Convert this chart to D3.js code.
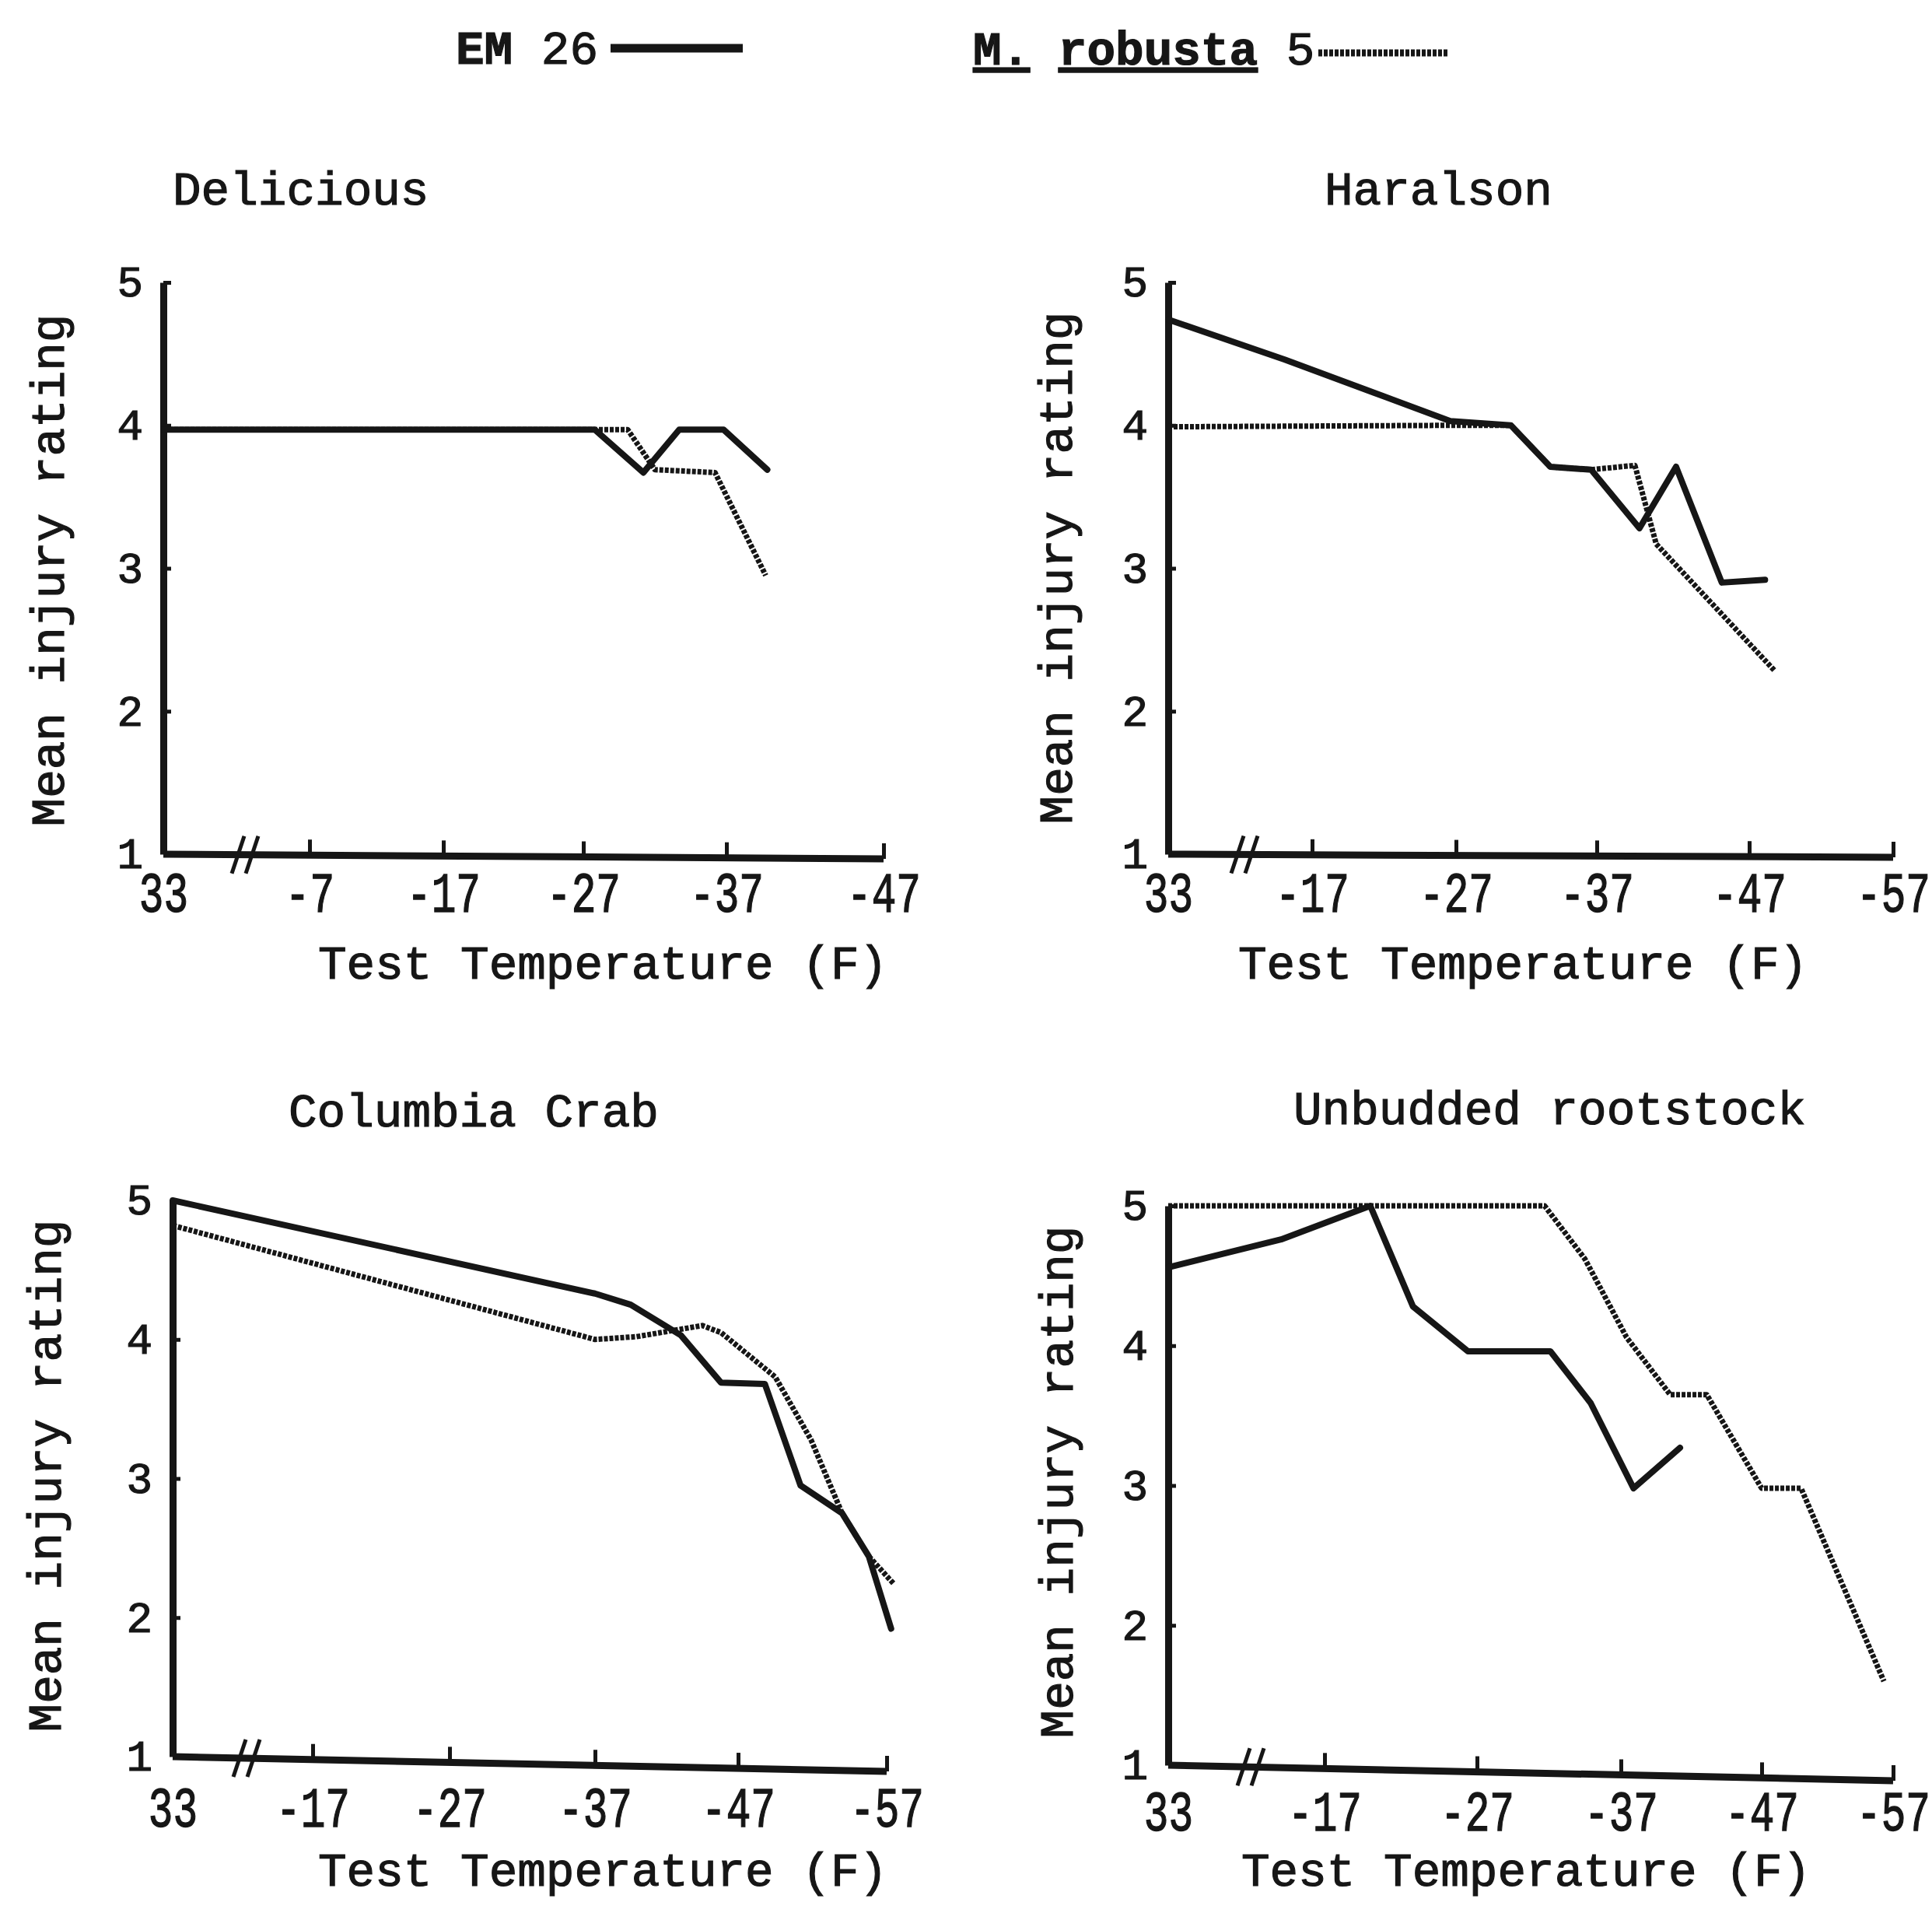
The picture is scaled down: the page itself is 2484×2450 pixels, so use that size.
<!DOCTYPE html>
<html>
<head>
<meta charset="utf-8">
<script src="https://cdnjs.cloudflare.com/ajax/libs/d3/7.8.5/d3.min.js"></script>
<style>
body { margin: 0; background: #fff; }
svg text { font-family: "Liberation Mono", "DejaVu Sans Mono", monospace; fill: #161616; stroke: #161616; stroke-width: 1.2; }
.axis path, .axis line { stroke: #161616; }
.em { fill: none; stroke: #161616; stroke-width: 8; stroke-linejoin: round; stroke-linecap: round; }
.rob { fill: none; stroke: #161616; stroke-width: 7; stroke-dasharray: 5 2; stroke-linejoin: round; }
</style>
</head>
<body>
<div id="chart"></div>
<script>
var svgWidth = 2484;
var svgHeight = 2450;

// tick values (test temperature, F) and ratings
var ticksDelicious = [33, -7, -17, -27, -37, -47];
var ticksOther = [33, -17, -27, -37, -47, -57];
var yTicks = [1, 2, 3, 4, 5];

// Delicious
var delTempEM  = [33, -27.8, -31.2, -33.7, -36.8, -39.6];
var delEM      = [3.97, 3.97, 3.67, 3.97, 3.97, 3.69];
var delTempRob = [33, -30.1, -32, -36.2, -39.5];
var delRob     = [3.97, 3.97, 3.69, 3.67, 2.95];

// Haralson
var harTempEM  = [33, -15.1, -26.6, -30.9, -33.7, -36.6, -39.8, -42.2, -45.2, -48.1];
var harEM      = [4.74, 4.46, 4.03, 4.0, 3.71, 3.69, 3.28, 3.71, 2.9, 2.92];
var harTempRob = [33, -26.6, -30.9, -33.7, -36.6, -39.5, -40.9, -48.8];
var harRob     = [3.99, 4.0, 4.0, 3.71, 3.69, 3.72, 3.17, 2.28];

// Columbia Crab
var colTempEM  = [33, -37, -39.5, -43, -45.8, -48.8, -51.2, -54.0, -55.8, -57.3];
var colEM      = [5.0, 4.33, 4.25, 4.03, 3.69, 3.68, 2.95, 2.75, 2.44, 1.92];
var colTempRob = [33, -37, -39.9, -44.5, -45.8, -49.5, -51.9, -54.0, -55.8, -57.5];
var colRob     = [4.82, 4.0, 4.02, 4.1, 4.05, 3.73, 3.28, 2.75, 2.44, 2.24];

// Unbudded rootstock
var unbTempEM  = [33, -14.0, -20.0, -22.8, -26.4, -32.1, -34.9, -37.9, -41.2];
var unbEM      = [4.56, 4.76, 5.0, 4.28, 3.96, 3.96, 3.59, 2.98, 3.27];
var unbTempRob = [33, -31.7, -34.5, -37.4, -40.5, -43.1, -47.0, -50.0, -56.3];
var unbRob     = [5.0, 5.0, 4.62, 4.06, 3.65, 3.65, 2.98, 2.98, 1.6];

function pairs(t, v) { return t.map((d, i) => [d, v[i]]); }

// panel layout: x range holds origin, axis break, then each tick
var panels = [
	{ title: "Delicious", ticks: ticksDelicious, breakT: -2.5,
	  xr: [210, 315, 398, 570, 750, 934, 1136], yr: [1098, 363], tilt: 6, labelY: 74,
	  tx: 222, ty: 263, xtx: 409, xty: 1258, ytx: 61, yty: 733,
	  em: pairs(delTempEM, delEM), rob: pairs(delTempRob, delRob) },
	{ title: "Haralson", ticks: ticksOther, breakT: -12.3,
	  xr: [1502, 1600, 1687, 1872, 2053, 2249, 2434], yr: [1098, 363], tilt: 4, labelY: 74,
	  tx: 1703, ty: 263, xtx: 1592, xty: 1258, ytx: 1357, yty: 730,
	  em: pairs(harTempEM, harEM), rob: pairs(harTempRob, harRob) },
	{ title: "Columbia Crab", ticks: ticksOther, breakT: -12.4,
	  xr: [222, 317, 402, 578, 765, 949, 1140], yr: [2258, 1543], tilt: 19, labelY: 90,
	  tx: 371, ty: 1448, xtx: 409, xty: 2424, ytx: 57, yty: 1897,
	  em: pairs(colTempEM, colEM), rob: pairs(colTempRob, colRob) },
	{ title: "Unbudded rootstock", ticks: ticksOther, breakT: -11.9,
	  xr: [1502, 1608, 1703, 1899, 2084, 2265, 2434], yr: [2269, 1550], tilt: 20, labelY: 84,
	  tx: 1663, ty: 1445, xtx: 1596, xty: 2424, ytx: 1358, yty: 1905,
	  em: pairs(unbTempEM, unbEM), rob: pairs(unbTempRob, unbRob) }
];

var svg = d3.select("#chart")
	.append("svg")
	.attr("width", svgWidth)
	.attr("height", svgHeight);

svg.append("rect").attr("width", svgWidth).attr("height", svgHeight).attr("fill", "#fff");

// legend
var leg1 = svg.append("text").attr("x", 586).attr("y", 82).attr("font-size", 61);
leg1.append("tspan").attr("font-weight", "bold").text("EM");
leg1.append("tspan").text(" 26");
svg.append("line").attr("class", "em").style("stroke-width", 11).style("stroke-linecap", "butt")
	.attr("x1", 785).attr("x2", 955).attr("y1", 62).attr("y2", 62);

var leg2 = svg.append("text").attr("x", 1251).attr("y", 83).attr("font-size", 61).attr("font-weight", "bold");
leg2.append("tspan").attr("text-decoration", "underline").text("M.");
leg2.append("tspan").text(" ");
leg2.append("tspan").attr("text-decoration", "underline").text("robusta");
leg2.append("tspan").attr("font-weight", "normal").text(" 5");
svg.append("line").attr("class", "rob").style("stroke-width", 9)
	.attr("x1", 1695).attr("x2", 1861).attr("y1", 68).attr("y2", 68);

panels.forEach(function(p) {
	var x = d3.scaleLinear()
		.domain([33, p.breakT].concat(p.ticks.slice(1)))
		.range(p.xr);
	var y = d3.scaleLinear().domain([1, 5]).range(p.yr);

	var g = svg.append("g");
	var x0 = x(33), xEnd = x(p.ticks[p.ticks.length - 1]);
	// the hand-drawn x axis sags a little to the right
	var sag = v => (x(v) - x0) / (xEnd - x0) * p.tilt;

	var xAxis = g.append("g")
		.attr("class", "axis")
		.attr("transform", `translate(0, ${y(1)})`)
		.call(d3.axisBottom(x).tickValues(p.ticks).tickSizeInner(-20).tickSizeOuter(0).tickFormat(d => d));
	xAxis.attr("font-family", null).attr("font-size", 60);
	xAxis.select(".domain").attr("stroke-width", 9).attr("d", `M${x0},0L${xEnd},${p.tilt}`);
	xAxis.selectAll(".tick line").attr("stroke-width", 5).attr("transform", d => `translate(0, ${sag(d)})`);
	xAxis.selectAll(".tick text")
		.attr("y", null).attr("dy", null)
		.attr("transform", `translate(0, ${p.labelY}) scale(0.88, 1.2)`);

	// axis break marks
	var bx = x(p.breakT);
	[-9, 9].forEach(function(off) {
		xAxis.append("line")
			.attr("x1", bx + off - 8).attr("y1", sag(p.breakT) + 24)
			.attr("x2", bx + off + 8).attr("y2", sag(p.breakT) - 24)
			.attr("stroke", "#161616").attr("stroke-width", 5);
	});

	var yAxis = g.append("g")
		.attr("class", "axis")
		.attr("transform", `translate(${x0}, 0)`)
		.call(d3.axisLeft(y).tickValues(yTicks).tickSizeInner(-10).tickSizeOuter(0).tickPadding(26).tickFormat(d3.format("d")));
	yAxis.attr("font-family", null).attr("font-size", 56);
	yAxis.select(".domain").attr("stroke-width", 9);
	yAxis.selectAll(".tick line").attr("stroke-width", 5);

	var line = d3.line().x(d => x(d[0])).y(d => y(d[1]));

	g.append("path").datum(p.rob).attr("class", "rob").attr("d", line);
	g.append("path").datum(p.em).attr("class", "em").attr("d", line);

	g.append("text").attr("x", p.tx).attr("y", p.ty).attr("font-size", 61).text(p.title);
	g.append("text").attr("x", p.xtx).attr("y", p.xty).attr("font-size", 61).text("Test Temperature (F)");
	g.append("text")
		.attr("transform", `translate(${p.ytx}, ${p.yty}) rotate(-90)`)
		.attr("text-anchor", "middle")
		.attr("dy", "0.35em")
		.attr("font-size", 61)
		.text("Mean injury rating");
});
</script>
</body>
</html>
